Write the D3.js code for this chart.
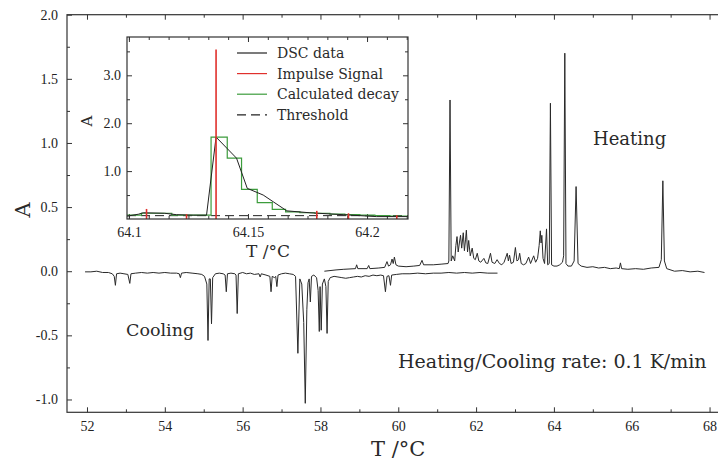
<!DOCTYPE html>
<html>
<head>
  <meta charset="utf-8">
  <script src="https://d3js.org/d3.v7.min.js"></script>
  <style>
    body { margin: 0; background: #fff; }
    .axis text { font-family: "Liberation Serif", serif; font-size: 14px; fill: #222; }
    .axis line { stroke: #333; stroke-width: 1px; }
    .axis .domain { display: none; }
    .lbl { font-family: "DejaVu Serif", serif; fill: #2a2a2a; }
  </style>
</head>
<body>
<div id="chart"></div>
<script>
// main plot: heating run (T in C, A)
var heatT = [58.10, 58.40, 58.60, 58.90, 58.93, 58.96, 59.20, 59.24, 59.27, 59.50, 59.65, 59.71, 59.75, 59.80, 59.84, 59.87, 59.90, 59.94,
  60.00, 60.20, 60.40, 60.55, 60.61, 60.65, 60.90, 61.10, 61.28, 61.30, 61.33, 61.36, 61.40, 61.45, 61.48, 61.51, 61.54, 61.57, 61.60,
  61.63, 61.67, 61.70, 61.73, 61.75, 61.78, 61.81, 61.85, 61.90, 61.94, 61.98, 62.03, 62.07, 62.12, 62.20, 62.25, 62.30, 62.37, 62.41,
  62.48, 62.54, 62.60, 62.66, 62.72, 62.80, 62.83, 62.86, 62.90, 62.96, 63.01, 63.05, 63.09, 63.12, 63.16, 63.22, 63.28, 63.35, 63.40,
  63.48, 63.53, 63.58, 63.62, 63.65, 63.67, 63.69, 63.72, 63.76, 63.81, 63.84, 63.88, 63.91, 63.94, 64.00, 64.08, 64.15, 64.22, 64.25,
  64.28, 64.31, 64.36, 64.45, 64.52, 64.57, 64.62, 64.70, 64.85, 65.00, 65.15, 65.30, 65.45, 65.60, 65.68, 65.71, 65.74, 65.90, 66.10,
  66.30, 66.50, 66.70, 66.76, 66.80, 66.84, 66.90, 67.10, 67.30, 67.50, 67.70, 67.87];
var heatA = [0.00, 0.01, 0.015, 0.02, 0.05, 0.02, 0.02, 0.045, 0.02, 0.025, 0.03, 0.075, 0.04, 0.05, 0.095, 0.06, 0.11, 0.05,
  0.04, 0.035, 0.04, 0.045, 0.085, 0.05, 0.05, 0.055, 0.06, 0.08, 1.335, 0.08, 0.12, 0.08, 0.20, 0.27, 0.15, 0.22, 0.28,
  0.18, 0.30, 0.16, 0.25, 0.32, 0.15, 0.24, 0.12, 0.18, 0.10, 0.09, 0.14, 0.08, 0.07, 0.10, 0.065, 0.06, 0.14, 0.07,
  0.06, 0.09, 0.06, 0.05, 0.07, 0.14, 0.08, 0.125, 0.06, 0.07, 0.185, 0.08, 0.09, 0.14, 0.06, 0.05, 0.06, 0.11, 0.06,
  0.12, 0.07, 0.10, 0.20, 0.315, 0.22, 0.28, 0.10, 0.06, 0.33, 0.05, 0.06, 1.31, 0.05, 0.04, 0.04, 0.05, 0.07, 0.12,
  1.70, 0.06, 0.04, 0.04, 0.08, 0.66, 0.06, 0.04, 0.03, 0.035, 0.025, 0.03, 0.02, 0.025, 0.02, 0.065, 0.02, 0.015, 0.02,
  0.015, 0.025, 0.03, 0.09, 0.705, 0.08, 0.02, 0.0, 0.005, -0.005, 0.0, -0.01];

// main plot: cooling run
var coolT = [51.95, 52.10, 52.25, 52.40, 52.55, 52.65, 52.70, 52.73, 52.76, 52.85, 52.95, 53.05, 53.10, 53.13, 53.25, 53.40, 53.55,
  53.70, 53.85, 54.00, 54.15, 54.30, 54.37, 54.40, 54.43, 54.55, 54.70, 54.85, 54.95, 55.02, 55.08, 55.11, 55.14, 55.17, 55.20, 55.23,
  55.30, 55.40, 55.50, 55.55, 55.58, 55.61, 55.70, 55.80, 55.83, 55.86, 55.89, 56.00, 56.10, 56.20, 56.30, 56.42, 56.45, 56.48, 56.60,
  56.70, 56.73, 56.76, 56.82, 56.85, 56.88, 56.91, 57.00, 57.10, 57.20, 57.30, 57.36, 57.42, 57.47, 57.52, 57.57, 57.61, 57.65, 57.68,
  57.71, 57.74, 57.77, 57.83, 57.90, 57.94, 57.97, 57.99, 58.02, 58.05, 58.10, 58.14, 58.17, 58.20, 58.25, 58.35, 58.45, 58.55, 58.65,
  58.75, 58.85, 58.95, 59.05, 59.15, 59.25, 59.35, 59.45, 59.55, 59.62, 59.67, 59.71, 59.76, 59.80, 59.83, 59.95, 60.10, 60.30, 60.50,
  60.70, 60.90, 61.10, 61.30, 61.50, 61.70, 61.90, 62.10, 62.30, 62.55];
var coolA = [-0.005, -0.005, 0.0, -0.01, -0.01, -0.02, -0.04, -0.11, -0.02, -0.015, -0.02, -0.025, -0.095, -0.02, -0.015, -0.01, -0.015,
  -0.01, -0.015, -0.01, -0.015, -0.015, -0.02, -0.05, -0.015, -0.01, -0.015, -0.02, -0.025, -0.04, -0.10, -0.54, -0.06, -0.06, -0.41, -0.05,
  -0.02, -0.015, -0.02, -0.03, -0.16, -0.02, -0.015, -0.02, -0.03, -0.33, -0.02, -0.01, -0.02, -0.015, -0.025, -0.02, -0.045, -0.02, -0.03,
  -0.04, -0.16, -0.04, -0.05, -0.04, -0.12, -0.03, -0.02, -0.015, -0.02, -0.025, -0.04, -0.64, -0.06, -0.10, -0.40, -1.03, -0.30, -0.09,
  -0.06, -0.24, -0.04, -0.03, -0.05, -0.15, -0.47, -0.12, -0.46, -0.10, -0.06, -0.12, -0.485, -0.08, -0.05, -0.04, -0.045, -0.05, -0.055,
  -0.05, -0.045, -0.04, -0.045, -0.035, -0.04, -0.03, -0.035, -0.03, -0.035, -0.16, -0.04, -0.035, -0.11, -0.03, -0.025, -0.02, -0.02, -0.015,
  -0.02, -0.015, -0.015, -0.01, -0.015, -0.01, -0.015, -0.01, -0.015, -0.015];

var mainXTicks = [52, 54, 56, 58, 60, 62, 64, 66, 68];
var mainYTicks = [-1.0, -0.5, 0.0, 0.5, 1.0, 1.5, 2.0];

// inset: zoom on one event
var dscT = [64.0992, 64.104, 64.106, 64.115, 64.120, 64.127, 64.1326, 64.1366, 64.1452, 64.1497, 64.1564, 64.1606, 64.1663,
  64.176, 64.190, 64.204, 64.2172];
var dscA = [0.06, 0.10, 0.13, 0.12, 0.09, 0.08, 0.08, 1.71, 1.27, 0.64, 0.50, 0.36, 0.17, 0.13, 0.09, 0.05, 0.05];

var decayT = [64.0992, 64.1053, 64.118, 64.1345, 64.1413, 64.1473, 64.1539, 64.1602, 64.1658, 64.1718, 64.1781, 64.1844, 64.1907,
  64.197, 64.2033, 64.2096, 64.2172];
var decayA = [0.08, 0.12, 0.08, 1.71, 1.27, 0.62, 0.34, 0.20, 0.15, 0.13, 0.12, 0.10, 0.09, 0.08, 0.07, 0.06, 0.06];

var impulseT = [64.1074, 64.1242, 64.1366, 64.1789, 64.1922, 64.2125];
var impulseA = [0.21, 0.10, 3.54, 0.17, 0.12, 0.08];

var threshold = 0.07;
var insetXTicks = [64.1, 64.15, 64.2];
var insetYTicks = [1.0, 2.0, 3.0];

var legendNames = ["DSC data", "Impulse Signal", "Calculated decay", "Threshold"];
var legendColors = ["#222", "#e0302c", "#3c9c3c", "#222"];

var W = 718, H = 462;
var svg = d3.select("#chart").append("svg").attr("width", W).attr("height", H);

// ---- main axes
var x = d3.scaleLinear().domain([51.486, 68.32]).range([67, 722]);
var y = d3.scaleLinear().domain([-1.1, 2.0]).range([412.3, 14.7]);

var xMinor = d3.range(53, 69, 2);
var yMinor = d3.range(-0.75, 2.0, 0.5);

svg.append("g").attr("class", "axis").attr("transform", "translate(0," + y(-1.1) + ")")
  .call(d3.axisBottom(x).tickValues(mainXTicks).tickSize(-5).tickPadding(9).tickFormat(d3.format("d")));
svg.append("g").attr("class", "axis").attr("transform", "translate(0," + y(-1.1) + ")")
  .call(d3.axisBottom(x).tickValues(xMinor).tickSize(-3).tickFormat(""));
svg.append("g").attr("class", "axis").attr("transform", "translate(0," + y(2.0) + ")")
  .call(d3.axisTop(x).tickValues(mainXTicks).tickSize(-5).tickFormat(""));
svg.append("g").attr("class", "axis").attr("transform", "translate(0," + y(2.0) + ")")
  .call(d3.axisTop(x).tickValues(xMinor).tickSize(-3).tickFormat(""));
svg.append("g").attr("class", "axis").attr("transform", "translate(" + x.range()[0] + ",0)")
  .call(d3.axisLeft(y).tickValues(mainYTicks).tickSize(-5).tickPadding(9).tickFormat(function(d) { return d.toFixed(1); }));
svg.append("g").attr("class", "axis").attr("transform", "translate(" + x.range()[0] + ",0)")
  .call(d3.axisLeft(y).tickValues(yMinor).tickSize(-3).tickFormat(""));

svg.append("rect")
  .attr("x", x.range()[0]).attr("y", y(2.0))
  .attr("width", x.range()[1] - x.range()[0]).attr("height", y(-1.1) - y(2.0))
  .attr("fill", "none").attr("stroke", "#333").attr("stroke-width", 1.2);

var line = d3.line().x(function(d) { return x(d[0]); }).y(function(d) { return y(d[1]); });

svg.append("path")
  .datum(coolT.map(function(t, i) { return [t, coolA[i]]; }))
  .attr("d", line).attr("fill", "none").attr("stroke", "#2a2a2a").attr("stroke-width", 1);
svg.append("path")
  .datum(heatT.map(function(t, i) { return [t, heatA[i]]; }))
  .attr("d", line).attr("fill", "none").attr("stroke", "#2a2a2a").attr("stroke-width", 1);

svg.append("text").attr("class", "lbl").attr("font-size", 21)
  .attr("transform", "translate(30,210) rotate(-90)").attr("text-anchor", "middle").text("A");
svg.append("text").attr("class", "lbl").attr("font-size", 21)
  .attr("x", x(60)).attr("y", 456).attr("text-anchor", "middle").text("T /°C");

svg.append("text").attr("class", "lbl").attr("font-size", 18).attr("x", 593).attr("y", 145).text("Heating");
svg.append("text").attr("class", "lbl").attr("font-size", 17.5).attr("x", 126).attr("y", 336).text("Cooling");
svg.append("text").attr("class", "lbl").attr("font-size", 19).attr("x", 398).attr("y", 368).text("Heating/Cooling rate: 0.1 K/min");

// ---- inset
var ix = d3.scaleLinear().domain([64.0992, 64.2172]).range([127, 408]);
var iy = d3.scaleLinear().domain([0, 3.8]).range([219, 37]);
var inset = svg.append("g");

inset.append("rect").attr("x", 127).attr("y", 37).attr("width", 281).attr("height", 182).attr("fill", "#fff");

var ixMinor = d3.range(0, 15).map(function(i) { return 64.1 + i * 0.05 / 6; }).filter(function(d) { return d < 64.2172; });
var iyMinor = d3.range(0.5, 3.8, 1.0);

[["B", 219], ["T", 37]].forEach(function(s) {
  var ax = s[0] == "B" ? d3.axisBottom : d3.axisTop;
  inset.append("g").attr("class", "axis").attr("transform", "translate(0," + s[1] + ")")
    .call(ax(ix).tickValues(insetXTicks).tickSize(-5).tickPadding(8)
      .tickFormat(s[0] == "B" ? function(d) { return d3.format("")(+d.toFixed(2)); } : ""));
  inset.append("g").attr("class", "axis").attr("transform", "translate(0," + s[1] + ")")
    .call(ax(ix).tickValues(ixMinor).tickSize(-3).tickFormat(""));
});
[["L", 127], ["R", 408]].forEach(function(s) {
  var ax = s[0] == "L" ? d3.axisLeft : d3.axisRight;
  inset.append("g").attr("class", "axis").attr("transform", "translate(" + s[1] + ",0)")
    .call(ax(iy).tickValues(insetYTicks).tickSize(-5).tickPadding(6)
      .tickFormat(s[0] == "L" ? function(d) { return d.toFixed(1); } : ""));
  inset.append("g").attr("class", "axis").attr("transform", "translate(" + s[1] + ",0)")
    .call(ax(iy).tickValues(iyMinor).tickSize(-3).tickFormat(""));
});

var iline = d3.line().x(function(d) { return ix(d[0]); }).y(function(d) { return iy(d[1]); });

inset.append("line")
  .attr("x1", ix.range()[0]).attr("x2", ix.range()[1])
  .attr("y1", iy(threshold)).attr("y2", iy(threshold))
  .attr("stroke", "#222").attr("stroke-width", 1).attr("stroke-dasharray", "9,5");

inset.append("path")
  .datum(decayT.map(function(t, i) { return [t, decayA[i]]; }))
  .attr("d", iline.curve(d3.curveStepAfter)).attr("fill", "none").attr("stroke", "#3c9c3c").attr("stroke-width", 1.2);

inset.append("path")
  .datum(dscT.map(function(t, i) { return [t, dscA[i]]; }))
  .attr("d", d3.line().x(function(d) { return ix(d[0]); }).y(function(d) { return iy(d[1]); }))
  .attr("fill", "none").attr("stroke", "#222").attr("stroke-width", 1);

inset.selectAll(".imp").data(impulseT).enter().append("line")
  .attr("x1", function(d) { return ix(d); }).attr("x2", function(d) { return ix(d); })
  .attr("y1", iy(0)).attr("y2", function(d, i) { return iy(impulseA[i]); })
  .attr("stroke", "#e0302c").attr("stroke-width", 1.6);

inset.append("rect").attr("x", 127).attr("y", 37).attr("width", 281).attr("height", 182)
  .attr("fill", "none").attr("stroke", "#333").attr("stroke-width", 1.2);

inset.append("text").attr("class", "lbl").attr("font-size", 15)
  .attr("transform", "translate(92,121) rotate(-90)").attr("text-anchor", "middle").text("A");
inset.append("text").attr("class", "lbl").attr("font-size", 17)
  .attr("x", ix(64.1584)).attr("y", 257).attr("text-anchor", "middle").text("T /°C");

var leg = inset.selectAll(".leg").data(legendNames).enter().append("g")
  .attr("transform", function(d, i) { return "translate(237," + (53 + i * 20.6) + ")"; });
leg.append("line").attr("x1", 0).attr("x2", 30).attr("y1", 0).attr("y2", 0)
  .attr("stroke", function(d, i) { return legendColors[i]; }).attr("stroke-width", 1.2)
  .attr("stroke-dasharray", function(d, i) { return i == 3 ? "9,5" : null; });
leg.append("text").attr("class", "lbl").attr("font-size", 14).attr("x", 40).attr("y", 5).text(function(d) { return d; });
</script>
</body>
</html>
